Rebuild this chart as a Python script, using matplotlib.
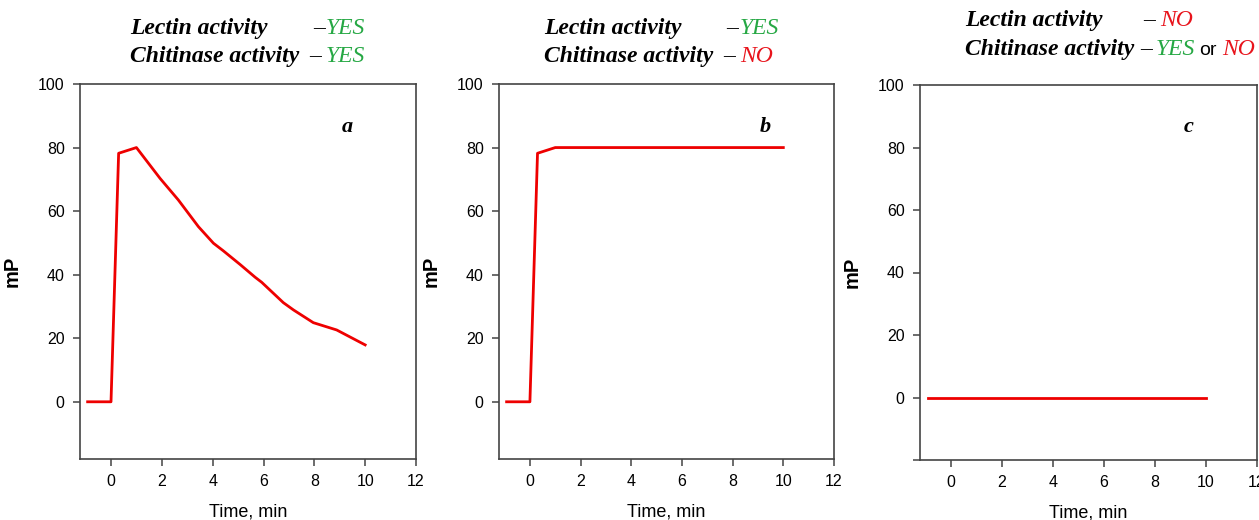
import matplotlib.pyplot as plt

# panel a: lectin + chitinase active
time_a = [-0.92, 0.0, 0.3, 1.0, 1.93, 2.65, 3.44, 4.03, 4.42, 5.08, 5.67, 5.93,
          6.78, 7.18, 7.96, 8.88, 10.0]
mp_a = [0, 0, 78.2, 80, 70.3, 63.5, 55.1, 49.9, 47.5, 43.2, 39.2, 37.6,
        31.2, 28.9, 24.9, 22.6, 17.9]

# panel b: lectin only
time_b = [-0.92, 0.0, 0.3, 1.0, 10.0]
mp_b = [0, 0, 78.2, 80, 80]

# panel c: no lectin
time_c = [-0.9, 10.0]
mp_c = [0, 0]

panel_labels = ['a', 'b', 'c']
W, H = 1259, 520
GREEN = '#26a844'
RED = '#e8141c'

plt.rcParams['font.family'] = ['Liberation Sans', 'DejaVu Sans']

fig = plt.figure(figsize=(W / 100, H / 100), dpi=100)


def px_axes(left, top, right, bottom):
    return [left / W, 1 - bottom / H, (right - left) / W, (bottom - top) / H]


def ftext(x, y, s, **kw):
    fig.text(x / W, 1 - y / H, s, va='baseline', ha='left', **kw)


serif = dict(family='Liberation Serif', style='italic', fontsize=17)

boxes = [px_axes(80, 84, 416, 459), px_axes(499, 84, 834, 459), px_axes(920, 85, 1257, 460)]
ylows = [-18, -18, -20]
series = [(time_a, mp_a), (time_b, mp_b), (time_c, mp_c)]

for i, box in enumerate(boxes):
    ax = fig.add_axes(box)
    t, v = series[i]
    ax.plot(t, v, color='#ee0000', lw=2)
    ax.set_xlim(-1.22, 12)
    ax.set_ylim(ylows[i], 100)
    ax.set_xticks(range(0, 13, 2))
    if i == 2:
        ax.set_yticks([-20, 0, 20, 40, 60, 80, 100])
        ax.set_yticklabels(['', '0', '20', '40', '60', '80', '100'])
    else:
        ax.set_yticks(range(0, 101, 20))
    for sp in ax.spines.values():
        sp.set_color('#444444')
        sp.set_linewidth(1.2)
    ax.tick_params(direction='out', length=5, width=1.1, color='#444444',
                   labelsize=11.5, pad=6)
    ax.set_xlabel('Time, min', fontsize=13, labelpad=10)
    ax.set_ylabel('mP', fontsize=14.5, fontweight='bold', labelpad=12)
    ax.text(9.3, 86.5, panel_labels[i], family='Liberation Serif', style='italic',
            fontweight='bold', fontsize=16, ha='center', va='center')

# titles
ftext(130, 34, 'Lectin activity', fontweight='bold', **serif)
ftext(313, 34, '–', color='black', **serif)
ftext(326, 34, 'YES', color=GREEN, **serif)
ftext(130, 62, 'Chitinase activity', fontweight='bold', **serif)
ftext(309, 62, '–', color='black', **serif)
ftext(326, 62, 'YES', color=GREEN, **serif)

ftext(544, 34, 'Lectin activity', fontweight='bold', **serif)
ftext(726, 34, '–', color='black', **serif)
ftext(740, 34, 'YES', color=GREEN, **serif)
ftext(544, 62, 'Chitinase activity', fontweight='bold', **serif)
ftext(723, 62, '–', color='black', **serif)
ftext(740, 62, 'NO', color=RED, **serif)

ftext(965, 26, 'Lectin activity', fontweight='bold', **serif)
ftext(1143, 26, '–', color='black', **serif)
ftext(1160, 26, 'NO', color=RED, **serif)
ftext(965, 55, 'Chitinase activity', fontweight='bold', **serif)
ftext(1140, 55, '–', color='black', **serif)
ftext(1156, 55, 'YES', color=GREEN, **serif)
ftext(1199, 55, 'or', color='black', fontsize=14)
ftext(1222, 55, 'NO', color=RED, **serif)

fig.savefig('out.png', dpi=100)
